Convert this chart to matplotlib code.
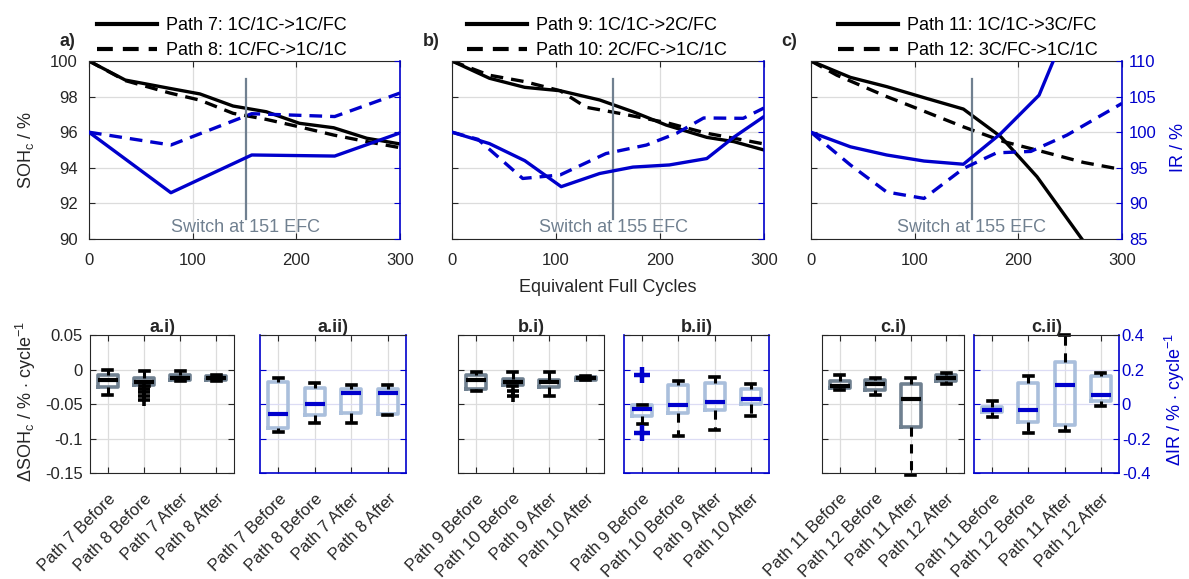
import matplotlib
matplotlib.use("Agg")
import matplotlib.pyplot as plt

plt.rcParams['font.family'] = ['Liberation Sans', 'DejaVu Sans']
plt.rcParams['mathtext.fontset'] = 'custom'
plt.rcParams['mathtext.rm'] = 'Liberation Sans'
plt.rcParams['mathtext.it'] = 'Liberation Sans:italic'
plt.rcParams['axes.unicode_minus'] = False

DARK = '#262626'
BLUE = '#0000cc'
SLATE = '#708090'
BOX_I = '#6f8090'
BOX_II = '#aabfdc'
GRID = '#dcdcdc'
GRID_BLUE = '#dcdcf4'

# ---------------- top row: SOH (left axis) and IR (right axis) vs EFC ----------------
# Panel a) Paths 7 / 8
efc_p7 = [0, 35, 78, 107, 139, 171, 203, 236, 268, 300]
soh_p7 = [100, 98.93, 98.46, 98.15, 97.47, 97.15, 96.5, 96.25, 95.66, 95.34]
efc_p8 = [0, 35, 78, 107, 139, 171, 203, 236, 268, 300]
soh_p8 = [100, 98.9, 98.2, 97.8, 97.06, 96.72, 96.3, 95.84, 95.47, 95.13]
efc_ir_p7 = [0, 79, 157, 237, 300]
ir_p7 = [100, 91.5, 96.8, 96.65, 99.9]
efc_ir_p8 = [0, 79, 157, 237, 300]
ir_p8 = [100, 98.2, 102.6, 102.2, 105.5]

# Panel b) Paths 9 / 10
efc_p9 = [0, 36, 70, 104, 142, 174, 206, 245, 271, 300]
soh_p9 = [100, 99.03, 98.52, 98.33, 97.81, 97.15, 96.4, 95.71, 95.47, 95.0]
efc_p10 = [0, 36, 70, 104, 129, 161, 206, 245, 271, 300]
soh_p10 = [100, 99.2, 98.84, 98.33, 97.4, 97.06, 96.54, 95.94, 95.66, 95.34]
efc_ir_p9 = [0, 36, 70, 105, 142, 174, 209, 245, 271, 300]
ir_p9 = [100, 98.4, 96.0, 92.35, 94.2, 95.1, 95.4, 96.3, 99.3, 102.2]
efc_ir_p10 = [0, 25, 68, 104, 148, 187, 216, 242, 280, 300]
ir_p10 = [100, 99.0, 93.5, 94.0, 97.0, 98.2, 99.85, 102.0, 101.95, 103.4]

# Panel c) Paths 11 / 12
efc_p11 = [0, 38, 73, 109, 147, 183, 218, 265]
soh_p11 = [100, 99.08, 98.56, 97.94, 97.3, 95.75, 93.5, 89.7]
efc_p12 = [0, 25, 73, 106, 147, 186, 224, 263, 300]
soh_p12 = [100, 99.2, 98.0, 97.25, 96.3, 95.47, 94.9, 94.3, 93.9]
efc_ir_p11 = [0, 38, 73, 109, 147, 183, 220, 236]
ir_p11 = [100, 97.95, 96.8, 95.95, 95.5, 99.8, 105.2, 110.8]
efc_ir_p12 = [0, 38, 73, 109, 147, 179, 212, 247, 300]
ir_p12 = [100, 95.4, 91.6, 90.7, 94.9, 97.1, 97.3, 99.6, 104.05]

switch_efc = [151, 155, 155]
legend_solid = ['Path 7: 1C/1C->1C/FC', 'Path 9: 1C/1C->2C/FC', 'Path 11: 1C/1C->3C/FC']
legend_dashed = ['Path 8: 1C/FC->1C/1C', 'Path 10: 2C/FC->1C/1C', 'Path 12: 3C/FC->1C/1C']
panel_letters = ['a)', 'b)', 'c)']

soh_ticks = [90, 92, 94, 96, 98, 100]
ir_ticks = [85, 90, 95, 100, 105, 110]
efc_ticks = [0, 100, 200, 300]

# ---------------- bottom row: per-cycle change box statistics ----------------
# each tuple: (whisker low, q1, median, q3, whisker high)
labels_a = ['Path 7 Before', 'Path 8 Before', 'Path 7 After', 'Path 8 After']
labels_b = ['Path 9 Before', 'Path 10 Before', 'Path 9 After', 'Path 10 After']
labels_c = ['Path 11 Before', 'Path 12 Before', 'Path 11 After', 'Path 12 After']

dsoh_a = [(-0.0374, -0.0252, -0.0155, -0.0083, -0.0010),
          (-0.0240, -0.0218, -0.0180, -0.0130, -0.0024),
          (-0.0165, -0.0155, -0.0117, -0.0083, -0.0024),
          (-0.0165, -0.0155, -0.0120, -0.0092, -0.0073)]
dsoh_a_out = [[], [-0.028, -0.033, -0.038, -0.044], [], []]
dir_a = [(-0.163, -0.138, -0.058, 0.128, 0.153),
         (-0.110, -0.066, 0.002, 0.093, 0.124),
         (-0.110, -0.052, 0.062, 0.085, 0.113),
         (-0.062, -0.056, 0.062, 0.085, 0.113)]
dir_a_out = [[], [], [], []]

dsoh_b = [(-0.0307, -0.0277, -0.0156, -0.0083, -0.0039),
          (-0.0243, -0.0219, -0.0175, -0.0131, -0.0039),
          (-0.0380, -0.0258, -0.0185, -0.0146, -0.0039),
          (-0.0156, -0.0156, -0.0127, -0.0107, -0.0088)]
dsoh_b_out = [[], [-0.031, -0.039], [], []]
dir_b = [(-0.115, -0.072, -0.029, -0.008, -0.004),
         (-0.185, -0.053, -0.006, 0.109, 0.132),
         (-0.150, -0.037, 0.0097, 0.119, 0.158),
         (-0.068, 0.002, 0.031, 0.089, 0.117)]
dir_b_out = [[0.167, -0.169], [], [], []]

dsoh_c = [(-0.0300, -0.0275, -0.0232, -0.0169, -0.0082),
          (-0.0370, -0.0290, -0.0208, -0.0155, -0.0120),
          (-0.1530, -0.0830, -0.0425, -0.0208, -0.0130),
          (-0.0217, -0.0169, -0.0120, -0.0082, -0.0048)]
dsoh_c_out = [[], [], [], []]
dir_c = [(-0.073, -0.048, -0.033, -0.019, 0.015),
         (-0.171, -0.104, -0.033, 0.121, 0.160),
         (-0.158, -0.123, 0.112, 0.241, 0.400),
         (-0.010, 0.015, 0.054, 0.160, 0.179)]
dir_c_out = [[], [], [], []]

dsoh_ticks = [-0.15, -0.1, -0.05, 0, 0.05]
dsoh_ticklabels = ['-0.15', '-0.1', '-0.05', '0', '0.05']
dir_ticks = [-0.4, -0.2, 0, 0.2, 0.4]
dir_ticklabels = ['-0.4', '-0.2', '0', '0.2', '0.4']

W, H = 1189, 579
fig = plt.figure(figsize=(W / 100, H / 100), dpi=100)


def px_axes(left, right, top, bottom):
    return fig.add_axes([left / W, 1 - bottom / H, (right - left) / W, (bottom - top) / H])


FS_TICK = 12
FS_TEXT = 13
LW = 2.4

top_boxes = [(89, 400), (452, 764), (811, 1122)]
top_series = [
    (efc_p7, soh_p7, efc_p8, soh_p8, efc_ir_p7, ir_p7, efc_ir_p8, ir_p8),
    (efc_p9, soh_p9, efc_p10, soh_p10, efc_ir_p9, ir_p9, efc_ir_p10, ir_p10),
    (efc_p11, soh_p11, efc_p12, soh_p12, efc_ir_p11, ir_p11, efc_ir_p12, ir_p12),
]
legend_x = [97, 467, 838]
letter_x = [60, 423, 781]
DASH = (0, (3.8, 2.4))

for i, ((l, r), ser) in enumerate(zip(top_boxes, top_series)):
    ax = px_axes(l, r, 61, 239)
    x1, y1, x2, y2, xi1, yi1, xi2, yi2 = ser
    h1, = ax.plot(x1, y1, color='black', lw=LW)
    h2, = ax.plot(x2, y2, color='black', lw=LW, ls=DASH)
    ax.set_xlim(0, 300)
    ax.set_ylim(90, 100)
    ax.set_xticks(efc_ticks)
    ax.set_yticks(soh_ticks)
    ax.grid(True, color=GRID, lw=0.9)
    ax.set_axisbelow(True)
    ax.tick_params(direction='in', length=4, labelsize=FS_TICK, colors=DARK,
                   top=True, right=False)
    ax.tick_params(axis='x', pad=10)
    ax.tick_params(axis='y', pad=8)
    if i > 0:
        ax.set_yticklabels([])
    for s in ['left', 'top', 'bottom']:
        ax.spines[s].set_color(DARK)
    ax.spines['right'].set_visible(False)

    ax.plot([switch_efc[i], switch_efc[i]], [91.1, 99.0], color=SLATE, lw=1.6)
    ax.text(switch_efc[i], 90.15, f'Switch at {switch_efc[i]} EFC', color=SLATE,
            fontsize=FS_TEXT, ha='center', va='bottom')

    ax2 = ax.twinx()
    ax2.plot(xi1, yi1, color=BLUE, lw=LW)
    ax2.plot(xi2, yi2, color=BLUE, lw=LW, ls=DASH)
    ax2.set_ylim(85, 110)
    ax2.set_yticks(ir_ticks)
    ax2.tick_params(direction='in', length=4, labelsize=FS_TICK, colors=BLUE, pad=5)
    if i < 2:
        ax2.set_yticklabels([])
    for s in ['left', 'top', 'bottom']:
        ax2.spines[s].set_visible(False)
    ax2.spines['right'].set_color(BLUE)
    ax2.spines['right'].set_linewidth(1.2)

    leg = fig.legend([h1, h2], [legend_solid[i], legend_dashed[i]], loc='lower left',
                     bbox_to_anchor=(legend_x[i] / W, 1 - 59 / H), frameon=False,
                     fontsize=FS_TEXT, handlelength=3.3, handletextpad=0.5,
                     labelspacing=0.45, borderpad=0, borderaxespad=0)
    for hl in leg.get_lines():
        hl.set_linewidth(3.0)
    fig.text(letter_x[i] / W, 1 - 41 / H, panel_letters[i], fontsize=FS_TEXT,
             fontweight='bold', ha='left', va='center', color=DARK)

fig.text(608 / W, 1 - 287 / H, 'Equivalent Full Cycles', fontsize=FS_TEXT,
         ha='center', va='center', color=DARK)
fig.text(26 / W, 1 - 150 / H, 'SOH$_{\\mathrm{c}}$ / %', fontsize=FS_TEXT, rotation=90,
         ha='center', va='center', color=DARK)
fig.text(1187 / W, 1 - 148 / H, 'IR / %', fontsize=FS_TEXT, rotation=90,
         ha='right', va='center', color=BLUE)

# ---------------- bottom row ----------------
bottom_boxes = [(90, 234), (260, 406), (458, 604), (624, 769), (822, 964), (974, 1119)]
bottom_sets = [
    ('a.i)', labels_a, dsoh_a, dsoh_a_out, 'soh'),
    ('a.ii)', labels_a, dir_a, dir_a_out, 'ir'),
    ('b.i)', labels_b, dsoh_b, dsoh_b_out, 'soh'),
    ('b.ii)', labels_b, dir_b, dir_b_out, 'ir'),
    ('c.i)', labels_c, dsoh_c, dsoh_c_out, 'soh'),
    ('c.ii)', labels_c, dir_c, dir_c_out, 'ir'),
]

for j, ((l, r), (title, labels, stats_raw, outs, kind)) in enumerate(zip(bottom_boxes, bottom_sets)):
    ax = px_axes(l, r, 335, 473)
    stats = []
    for (lo, q1, med, q3, hi), fl in zip(stats_raw, outs):
        stats.append(dict(whislo=lo, q1=q1, med=med, q3=q3, whishi=hi, fliers=fl))
    is_ir = kind == 'ir'
    box_c = BOX_II if is_ir else BOX_I
    med_c = BLUE if is_ir else 'black'
    fl_c = BLUE if is_ir else 'black'
    arts = ax.bxp(stats, positions=[1, 2, 3, 4], widths=0.55, capwidths=0.25,
                  boxprops=dict(color=box_c, lw=2.6),
                  medianprops=dict(color=med_c, lw=3.0, solid_capstyle='butt'),
                  whiskerprops=dict(color='black', lw=2.2, ls=(0, (3, 2.5))),
                  capprops=dict(color='black', lw=2.6),
                  flierprops=dict(marker='+', markeredgecolor=fl_c,
                                  markersize=12 if is_ir else 8,
                                  markeredgewidth=3.2 if is_ir else 2.6, linestyle='none'),
                  manage_ticks=False)
    for key in ('whiskers', 'caps'):
        for a in arts[key]:
            a.set_clip_on(False)
    ax.set_xlim(0.5, 4.5)
    ax.set_xticks([1, 2, 3, 4])
    ax.set_xticklabels(labels, rotation=45, ha='right', va='top',
                       rotation_mode='anchor', fontsize=FS_TICK, color=DARK)
    if is_ir:
        ax.set_ylim(-0.4, 0.4)
        ax.set_yticks(dir_ticks)
    else:
        ax.set_ylim(-0.15, 0.05)
        ax.set_yticks(dsoh_ticks)
    ax.grid(True, axis='x', color=GRID, lw=0.9)
    ax.grid(True, axis='y', color=GRID_BLUE if is_ir else GRID, lw=0.9)
    ax.set_axisbelow(True)
    ax.tick_params(axis='x', direction='in', length=4, top=True, colors=DARK, pad=13)
    ax.tick_params(axis='y', direction='in', length=4, right=True, labelsize=FS_TICK,
                   colors=BLUE if is_ir else DARK)
    if is_ir:
        ax.set_yticklabels(dir_ticklabels)
        for s in ['left', 'right', 'bottom']:
            ax.spines[s].set_color(BLUE)
            ax.spines[s].set_linewidth(1.2)
        ax.spines['top'].set_color(DARK)
        if j == 5:
            ax.tick_params(axis='y', labelleft=False, labelright=True, pad=2)
        else:
            ax.tick_params(axis='y', labelleft=False)
    else:
        ax.set_yticklabels(dsoh_ticklabels)
        for s in ax.spines.values():
            s.set_color(DARK)
        if j != 0:
            ax.tick_params(axis='y', labelleft=False)
        else:
            ax.tick_params(axis='y', pad=5)
    ax.set_title(title, fontsize=FS_TEXT, fontweight='bold', pad=2, color=DARK)

fig.text(26 / W, 1 - 402 / H, '$\\Delta$SOH$_{\\mathrm{c}}$ / % $\\cdot$ cycle$^{\\mathrm{-1}}$',
         fontsize=FS_TEXT, rotation=90, ha='center', va='center', color=DARK)
fig.text(1187 / W, 1 - 400 / H, '$\\Delta$IR / % $\\cdot$ cycle$^{\\mathrm{-1}}$',
         fontsize=FS_TEXT, rotation=90, ha='right', va='center', color=BLUE)

fig.savefig('out.png', dpi=100)
